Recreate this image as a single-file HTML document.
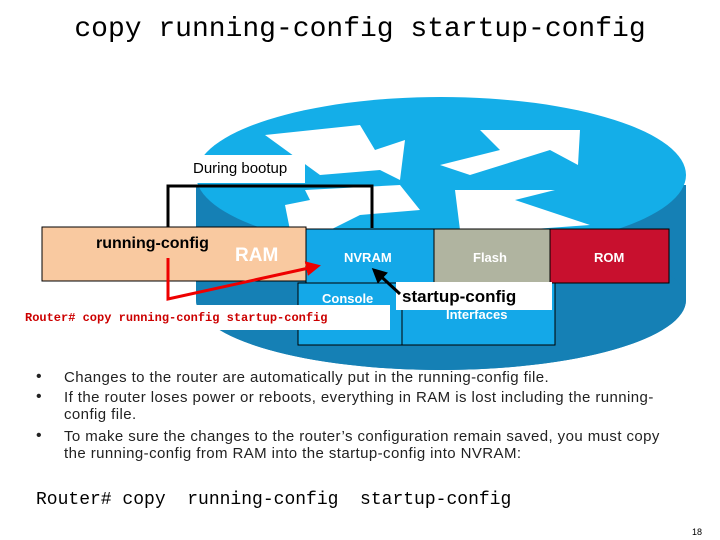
<!DOCTYPE html>
<html><head><meta charset="utf-8"><style>
body{margin:0;width:720px;height:540px;background:#fff;overflow:hidden;position:relative;font-family:"Liberation Sans",sans-serif}
.t{position:absolute;white-space:nowrap}
.b{font-size:15px;letter-spacing:0.42px;line-height:17px;color:#222}
</style></head><body>
<svg width="720" height="540" style="position:absolute;left:0;top:0">
<defs><marker id="ab" markerWidth="5" markerHeight="5" refX="4" refY="2.5" orient="auto"><path d="M0,0 L5,2.5 L0,5z" fill="#000"/></marker>
<marker id="ar" markerWidth="5" markerHeight="5" refX="4" refY="2.5" orient="auto"><path d="M0,0 L5,2.5 L0,5z" fill="#e00"/></marker></defs>
<path d="M196,185 L196,300 A245,70 0 0 0 686,300 L686,185z" fill="#1580b5"/>
<ellipse cx="441" cy="300" rx="245" ry="70" fill="#1580b5"/>
<ellipse cx="441" cy="175" rx="245" ry="78" fill="#14aee8"/>
<polygon points="265,135 360,125 375,150 405,140 400,180 380,170 320,175" fill="#fff"/>
<polygon points="480,130 580,130 578,165 550,150 470,175 440,165 500,150" fill="#fff"/>
<polygon points="285,205 310,200 305,190 400,185 420,210 360,215 330,230 290,230" fill="#fff"/>
<polygon points="455,190 555,190 515,200 590,225 520,230 460,230" fill="#fff"/>
<rect x="42" y="227" width="264" height="54" fill="#f9c9a0" stroke="#000"/>
<rect x="306" y="229" width="128" height="54" fill="#14a8e8" stroke="#000"/>
<rect x="434" y="229" width="116" height="54" fill="#b0b4a0" stroke="#000"/>
<rect x="550" y="229" width="119" height="54" fill="#c8102e" stroke="#000"/>
<rect x="298" y="283" width="104" height="62" fill="#14a8e8" stroke="#000"/>
<rect x="402" y="283" width="153" height="62" fill="#14a8e8" stroke="#000"/>
<rect x="190" y="155" width="115" height="28" fill="#fff"/>
<rect x="396" y="282" width="156" height="28" fill="#fff"/>
<rect x="22" y="305" width="368" height="25" fill="#fff"/>
<polyline points="168,227 168,186 372,186 372,228" fill="none" stroke="#000" stroke-width="3"/>
<polyline points="168,258 168,299 318,266" fill="none" stroke="#e00" stroke-width="3" marker-end="url(#ar)"/>
<line x1="400" y1="294" x2="374" y2="270" stroke="#000" stroke-width="3" marker-end="url(#ab)"/>
</svg>
<div class="t" style="left:0;width:720px;top:14px;text-align:center;font:28px 'Liberation Mono',monospace">copy running-config startup-config</div>
<div class="t" style="left:193px;top:160px;font-size:15px">During bootup</div>
<div class="t" style="left:96px;top:235px;font-size:16px;font-weight:bold;">running-config</div>
<div class="t" style="left:235px;top:245px;font-size:19px;font-weight:bold;color:#fff">RAM</div>
<div class="t" style="left:344px;top:250px;font-size:13px;font-weight:bold;color:#fff">NVRAM</div>
<div class="t" style="left:473px;top:250px;font-size:13px;font-weight:bold;color:#fff">Flash</div>
<div class="t" style="left:594px;top:250px;font-size:13px;font-weight:bold;color:#fff">ROM</div>
<div class="t" style="left:322px;top:291px;font-size:13px;font-weight:bold;color:#fff">Console</div>
<div class="t" style="left:446px;top:307px;font-size:13px;font-weight:bold;color:#fff">Interfaces</div>
<div class="t" style="left:402px;top:287px;font-size:17px;font-weight:bold">startup-config</div>
<div class="t" style="left:25px;top:311px;font:bold 12px 'Liberation Mono',monospace;color:#c00">Router# copy running-config startup-config</div>
<div class="t" style="left:36px;top:368px;font-size:16px;color:#222">•</div>
<div class="t" style="left:36px;top:388px;font-size:16px;color:#222">•</div>
<div class="t" style="left:36px;top:427px;font-size:16px;color:#222">•</div>
<div class="t b" style="left:64px;top:369px">Changes to the router are automatically put in the running-config file.</div>
<div class="t b" style="left:64px;top:389px">If the router loses power or reboots, everything in RAM is lost including the running-<br>config file.</div>
<div class="t b" style="left:64px;top:428px">To make sure the changes to the router’s configuration remain saved, you must copy<br>the running-config from RAM into the startup-config into NVRAM:</div>
<div class="t" style="left:36px;top:490px;font:18px 'Liberation Mono',monospace;white-space:pre">Router# copy  running-config  startup-config</div>
<div class="t" style="left:692px;top:527px;font-size:9px">18</div>
</body></html>
